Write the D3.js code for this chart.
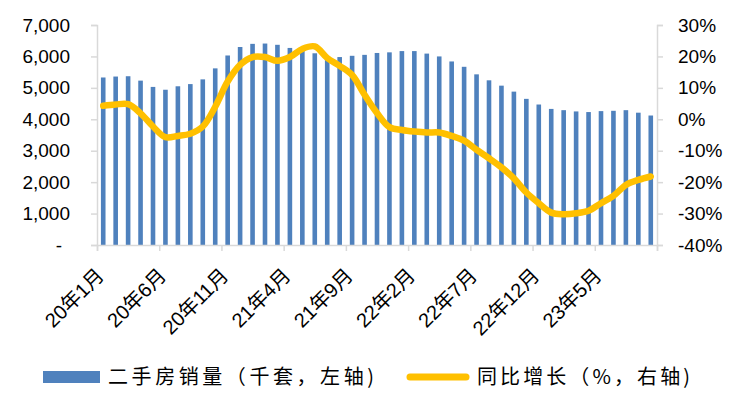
<!DOCTYPE html>
<html>
<head>
<meta charset="utf-8">
<script src="https://cdn.jsdelivr.net/npm/d3@7"></script>
<style>
  html, body { margin: 0; padding: 0; background: #fff; }
  svg { display: block; }
</style>
</head>
<body>
<svg id="chart" width="729" height="414"></svg>
<script>
// ---- data ----
const categories = [
  "20年1月","20年2月","20年3月","20年4月","20年5月","20年6月","20年7月","20年8月","20年9月","20年10月","20年11月","20年12月",
  "21年1月","21年2月","21年3月","21年4月","21年5月","21年6月","21年7月","21年8月","21年9月","21年10月","21年11月","21年12月",
  "22年1月","22年2月","22年3月","22年4月","22年5月","22年6月","22年7月","22年8月","22年9月","22年10月","22年11月","22年12月",
  "23年1月","23年2月","23年3月","23年4月","23年5月","23年6月","23年7月","23年8月","23年9月"
];
const sales = [
  5330,5360,5370,5230,5030,4940,5050,5120,5270,5620,
  6030,6300,6400,6410,6370,6270,6200,6100,5950,5980,
  6020,6050,6110,6130,6170,6170,6090,6000,5840,5670,
  5430,5240,5070,4880,4650,4470,4330,4290,4250,4230,
  4260,4270,4290,4210,4120
];
const yoy = [
  4.3,4.7,4.8,1.9,-2.3,-5.7,-5.3,-4.6,-2.3,4.0,
  12.0,17.3,19.8,19.8,18.6,19.8,22.4,23.2,19.5,17.0,
  14.1,7.8,2.0,-2.5,-3.4,-3.9,-4.2,-4.2,-5.3,-6.8,
  -9.7,-12.4,-15.3,-18.8,-23.3,-26.7,-29.7,-30.2,-29.9,-29.1,
  -26.7,-24.4,-20.9,-19.3,-18.2
];
const leftTicks = [0,1000,2000,3000,4000,5000,6000,7000];
const rightTicks = [-40,-30,-20,-10,0,10,20,30];
const labelEvery = 5;
const legendLabels = ["二手房销量（千套，左轴)", "同比增长（%，右轴)"];

// ---- layout ----
const svg = d3.select("#chart");
const L = 97, R = 657, T = 25, B = 245;
const axisColor = "#D9D9D9";
const barColor = "#4F81BD";
const lineColor = "#FFC000";
const font = "'Liberation Sans', Arial, 'Noto Sans CJK SC', sans-serif";

const x = d3.scaleBand().domain(categories).range([L, R]).paddingInner(0.63).paddingOuter(0.315);
const xIdx = d3.scaleLinear().domain([0, categories.length]).range([L, R]);
const yL = d3.scaleLinear().domain([0, 7000]).range([B, T]);
const yR = d3.scaleLinear().domain([-40, 30]).range([B, T]);

// bars
svg.append("g").selectAll("rect").data(sales).join("rect")
  .attr("x", (d, i) => x(categories[i]))
  .attr("width", x.bandwidth())
  .attr("y", d => yL(d))
  .attr("height", d => yL(0) - yL(d))
  .attr("fill", barColor);

// left axis
const gl = svg.append("g").attr("transform", `translate(${L},0)`)
  .call(d3.axisLeft(yL).tickValues(leftTicks).tickSize(6).tickPadding(21)
    .tickFormat(d => d === 0 ? "-" : d3.format(",")(d)));
gl.selectAll("text").filter(d => d === 0).attr("dx", "-8");

// right axis
const gr = svg.append("g").attr("transform", `translate(${R},0)`)
  .call(d3.axisRight(yR).tickValues(rightTicks).tickSize(6).tickPadding(15)
    .tickFormat(d => d + "%"));

// bottom axis (tick marks at category boundaries)
const gb = svg.append("g").attr("transform", `translate(0,${B})`)
  .call(d3.axisBottom(xIdx).tickValues(d3.range(0, categories.length + 1, labelEvery)).tickSize(6).tickFormat(""));

[gl, gr, gb].forEach(g => {
  g.selectAll("path.domain").attr("stroke", axisColor).attr("stroke-width", 1.5);
  g.selectAll(".tick line").attr("stroke", axisColor).attr("stroke-width", 1.5);
  g.selectAll("text").attr("fill", "#000").style("font-family", font).style("font-size", "19px");
});

// x labels
const xl = svg.append("g");
categories.forEach((c, i) => {
  if (i % labelEvery !== 0) return;
  const cx = x(c) + x.bandwidth() / 2;
  xl.append("text")
    .attr("transform", `translate(${cx - 3},272) rotate(-45)`)
    .attr("text-anchor", "end")
    .attr("dy", "0.35em")
    .style("font-family", font)
    .style("font-size", "20px")
    .attr("fill", "#000")
    .text(c);
});

// line
const line = d3.line()
  .x((d, i) => x(categories[i]) + x.bandwidth() / 2)
  .y(d => yR(d))
  .curve(d3.curveCatmullRom.alpha(0.5));
svg.append("path").datum(yoy)
  .attr("d", line)
  .attr("fill", "none")
  .attr("stroke", lineColor)
  .attr("stroke-width", 6.5)
  .attr("stroke-linejoin", "round")
  .attr("stroke-linecap", "round");

// legend
const ly = 377;
const lg = svg.append("g");
lg.append("rect").attr("x", 43).attr("y", ly - 6).attr("width", 57).attr("height", 12).attr("fill", barColor);
lg.append("text").attr("x", 108).attr("y", ly).attr("dy", "0.36em")
  .attr("textLength", 266).attr("lengthAdjust", "spacing")
  .style("font-family", "'Noto Sans CJK SC', sans-serif").style("font-size", "20px")
  .attr("fill", "#000").text(legendLabels[0]);
lg.append("line").attr("x1", 410).attr("x2", 466).attr("y1", ly).attr("y2", ly)
  .attr("stroke", lineColor).attr("stroke-width", 7).attr("stroke-linecap", "round");
lg.append("text").attr("x", 477).attr("y", ly).attr("dy", "0.36em")
  .attr("textLength", 213).attr("lengthAdjust", "spacing")
  .style("font-family", "'Noto Sans CJK SC', sans-serif").style("font-size", "20px")
  .attr("fill", "#000").text(legendLabels[1]);
</script>
</body>
</html>
